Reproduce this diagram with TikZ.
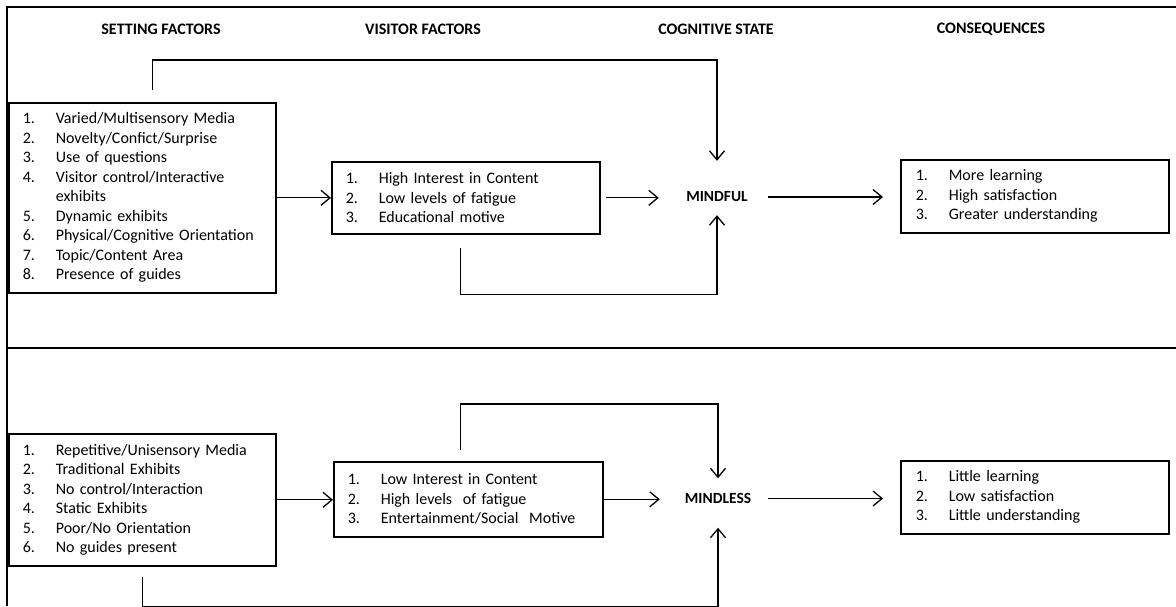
\documentclass[tikz,border=0pt]{standalone}
\usepackage{fontspec}
\setmainfont{Carlito}
\usetikzlibrary{arrows.meta}
% numbered line inside a list box: number column, then the entry
\newcommand\numitem[2]{\makebox[33pt][l]{#1}#2}
\begin{document}
\begin{tikzpicture}[x=1pt,y=-1pt,
  every node/.style={inner sep=0pt},
  frame/.style={line width=1.6pt},
  listbox/.style={draw, line width=1.6pt, anchor=north west, inner xsep=14pt,
    inner ysep=0pt, align=left, font=\fontsize{16}{19.5}\selectfont},
  header/.style={font=\bfseries\fontsize{16}{19}\selectfont},
  state/.style={font=\bfseries\fontsize{15.5}{19}\selectfont,
    minimum width=116pt, minimum height=40pt},
  arr/.style={line width=1.3pt,
    -{Straight Barb[length=9pt,width=15pt]}}]
\useasboundingbox (0,0) rectangle (1176,606);

% outer frame and the divider between the two rows
\draw[frame] (1176,7) -- (7,7) -- (7,606);
\draw[frame] (7,348) -- (1176,348);

% column headings
\node[header] (hsf) at (161,29) {SETTING FACTORS};
\node[header] (hvf) at (423,29) {VISITOR FACTORS};
\node[header] (hcs) at (716,29) {COGNITIVE STATE};
\node[header] (hcq) at (991,29) {CONSEQUENCES};

% ---- mindful row ----
\node[listbox, minimum width=267pt, text width=239pt, minimum height=190pt]
  (sf1) at (8,102) {%
  \numitem{1.}{Varied/Multisensory Media}\\
  \numitem{2.}{Novelty/Confict/Surprise}\\
  \numitem{3.}{Use of questions}\\
  \numitem{4.}{Visitor control/Interactive}\\
  \numitem{}{exhibits}\\
  \numitem{5.}{Dynamic exhibits}\\
  \numitem{6.}{Physical/Cognitive Orientation}\\
  \numitem{7.}{Topic/Content Area}\\
  \numitem{8.}{Presence of guides}};

\node[listbox, minimum width=268pt, text width=240pt, minimum height=72pt]
  (vf1) at (331,161) {%
  \numitem{1.}{High Interest in Content}\\
  \numitem{2.}{Low levels of fatigue}\\
  \numitem{3.}{Educational motive}};

\node[state] (mindful) at (717,197) {MINDFUL};

\node[listbox, minimum width=267pt, text width=238pt, minimum height=73pt,
  inner xsep=15pt] (cq1) at (900,159) {%
  \numitem{1.}{More learning}\\
  \numitem{2.}{High satisfaction}\\
  \numitem{3.}{Greater understanding}};

\draw[arr] (sf1.east) -- (sf1.east -| vf1.west);
\draw[arr] ([xshift=5pt]vf1.east) -- (vf1.east -| mindful.west);
\draw[arr] ([xshift=-7pt]mindful.east) -- ([xshift=-17pt]mindful.east -| cq1.west);
\draw[arr] ([xshift=10.5pt,yshift=12pt]sf1.north) -- ++(0,-30)
  -| ([yshift=16pt]mindful.north);
\draw[arr] ([xshift=-5pt,yshift=-13pt]vf1.south) -- ++(0,47)
  -| ([yshift=2pt]mindful.south);

% ---- mindless row ----
\node[listbox, minimum width=267pt, text width=239pt, minimum height=132pt]
  (sf2) at (8,433) {%
  \numitem{1.}{Repetitive/Unisensory Media}\\
  \numitem{2.}{Traditional Exhibits}\\
  \numitem{3.}{No control/Interaction}\\
  \numitem{4.}{Static Exhibits}\\
  \numitem{5.}{Poor/No Orientation}\\
  \numitem{6.}{No guides present}};

\node[listbox, minimum width=269pt, text width=241pt, minimum height=75pt]
  (vf2) at (333,461) {%
  \numitem{1.}{Low Interest in Content}\\
  \numitem{2.}{High levels\ \ of fatigue}\\
  \numitem{3.}{Entertainment/Social\ \ Motive}};

\node[state] (mindless) at (718,498.5) {MINDLESS};

\node[listbox, minimum width=267pt, text width=238pt, minimum height=73pt,
  inner xsep=15pt] (cq2) at (900,460) {%
  \numitem{1.}{Little learning}\\
  \numitem{2.}{Low satisfaction}\\
  \numitem{3.}{Little understanding}};

\draw[arr] (sf2.east) -- (sf2.east -| vf2.west);
\draw[arr] (vf2.east) -- (vf2.east -| mindless.west);
\draw[arr] ([xshift=-8pt]mindless.east) -- ([xshift=-17pt]mindless.east -| cq2.west);
\draw[arr] ([xshift=-7.5pt,yshift=11pt]vf2.north) -- ++(0,-46)
  -| (mindless.north);
\draw[arr] ([yshift=-10pt]sf2.south) -- ++(0,30)
  -| ([yshift=-9pt]mindless.south);
\end{tikzpicture}
\end{document}
